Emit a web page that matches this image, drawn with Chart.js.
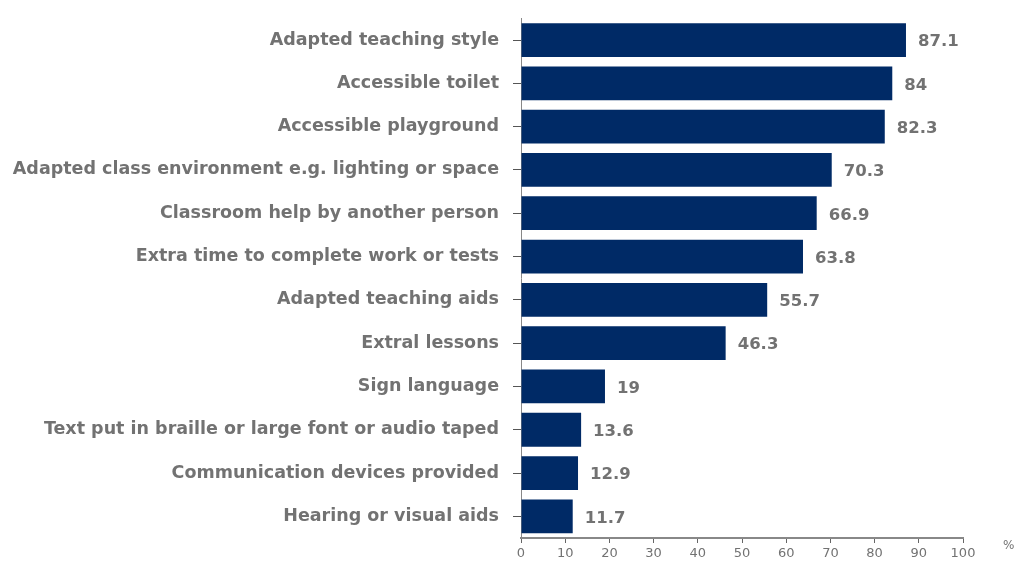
<!DOCTYPE html>
<html lang="en">
<head>
  <meta charset="UTF-8">
  <title>Adaptations</title>
  <script src="https://cdn.jsdelivr.net/npm/chart.js"></script>
  <style>
    body { margin: 0; background: #fff; }
    .wrap { width: 1018px; height: 561px; }
  </style>
</head>
<body>
  <div class="wrap"><canvas id="chart"></canvas></div>
  <script>
    const categories = [
      'Adapted teaching style',
      'Accessible toilet',
      'Accessible playground',
      'Adapted class environment e.g. lighting or space',
      'Classroom help by another person',
      'Extra time to complete work or tests',
      'Adapted teaching aids',
      'Extral lessons',
      'Sign language',
      'Text put in braille or large font or audio taped',
      'Communication devices provided',
      'Hearing or visual aids'
    ];
    const values = [87.1, 84, 82.3, 70.3, 66.9, 63.8, 55.7, 46.3, 19, 13.6, 12.9, 11.7];
    const labels = ['87.1', '84', '82.3', '70.3', '66.9', '63.8', '55.7', '46.3', '19', '13.6', '12.9', '11.7'];

    const grey = '#727272';
    const font = 'DejaVu Sans';

    // value labels + % unit
    const extras = {
      id: 'extras',
      afterDatasetsDraw(chart) {
        const ctx = chart.ctx;
        const meta = chart.getDatasetMeta(0);
        ctx.save();
        ctx.fillStyle = grey;
        ctx.font = 'bold 16.5px ' + font;
        ctx.textBaseline = 'middle';
        meta.data.forEach((bar, i) => {
          ctx.fillText(labels[i], bar.x + 12, bar.y + 2);
        });
        const xs = chart.scales.x;
        ctx.font = '12px ' + font;
        ctx.fillText('%', xs.right + 40, xs.top + 8);
        ctx.restore();
      }
    };

    new Chart(document.getElementById('chart'), {
      type: 'bar',
      data: {
        labels: categories,
        datasets: [{
          data: values,
          backgroundColor: '#002a66',
          barPercentage: 0.78,
          categoryPercentage: 1
        }]
      },
      options: {
        indexAxis: 'y',
        responsive: true,
        maintainAspectRatio: false,
        animation: false,
        layout: { padding: { top: 10, right: 55, left: 0, bottom: 0 } },
        plugins: { legend: { display: false }, tooltip: { enabled: false } },
        scales: {
          x: {
            min: 0,
            max: 100,
            afterFit(scale) { scale.height = 23; },
            ticks: { stepSize: 10, color: grey, font: { family: font, size: 13 }, padding: 3 },
            grid: { drawOnChartArea: false, tickLength: 5, color: '#666' },
            border: { color: '#888', width: 2 }
          },
          y: {
            afterFit(scale) { scale.width = 521; },
            ticks: { color: grey, font: { family: font, size: 17.5, weight: 'bold', lineHeight: 0.5 }, padding: 14 },
            grid: { drawOnChartArea: false, tickLength: 8, color: '#555', offset: false },
            border: { color: '#888', width: 1 }
          }
        }
      },
      plugins: [extras]
    });
  </script>
</body>
</html>
